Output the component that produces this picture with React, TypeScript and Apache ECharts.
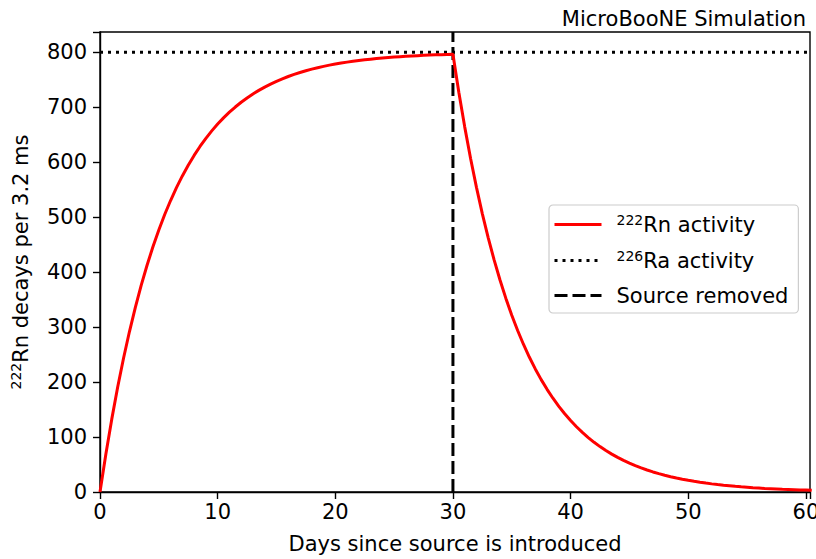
import React, { useEffect, useRef } from "react";
import * as echarts from "echarts";

// Days (half-day steps) and 222Rn activity
const days: number[] = [];
for (let i = 0; i <= 121; i++) days.push(i / 2);

const rnActivity: number[] = [
  0, 69.3, 132.6, 190.5, 243.3, 291.5, 335.6, 375.9, 412.6, 446.2,
  476.8, 504.9, 530.4, 553.8, 575.1, 594.6, 612.4, 628.7, 643.5, 657.1,
  669.5, 680.8, 691.1, 700.5, 709.2, 717.0, 724.2, 730.8, 736.8, 742.3,
  747.3, 751.8, 756.0, 759.8, 763.3, 766.5, 769.4, 772.0, 774.5, 776.7,
  778.7, 780.5, 782.2, 783.8, 785.2, 786.5, 787.6, 788.7, 789.7, 790.6,
  791.4, 792.1, 792.8, 793.4, 794.0, 794.5, 795.0, 795.4, 795.8, 796.2,
  796.5,
  727.5, 664.4, 606.9, 554.3, 506.2, 462.4, 422.3, 385.7, 352.3, 321.7,
  293.9, 268.4, 245.1, 223.9, 204.5, 186.8, 170.6, 155.8, 142.3, 130.0,
  118.7, 108.4, 99.0, 90.4, 82.6, 75.4, 68.9, 62.9, 57.5, 52.5,
  47.9, 43.8, 40.0, 36.5, 33.4, 30.5, 27.8, 25.4, 23.2, 21.2,
  19.4, 17.7, 16.2, 14.8, 13.5, 12.3, 11.3, 10.3, 9.4, 8.6,
  7.8, 7.2, 6.5, 6.0, 5.5, 5.0, 4.6, 4.2, 3.8, 3.5, 3.2,
];

const raActivity = 800;
const sourceRemovedDay = 30;
const xTicks = [0, 10, 20, 30, 40, 50, 60];
const yTicks = [0, 100, 200, 300, 400, 500, 600, 700, 800];
const xMax = 60.35;
const yMax = 837;

const FONT = "DejaVu Sans";
const FS = 21;

export default function App() {
  const ref = useRef<HTMLDivElement>(null);
  useEffect(() => {
    if (!ref.current) return;
    const chart = echarts.init(ref.current, undefined, { renderer: "svg" });
    const rnData = days.map((d, i) => [d, rnActivity[i]]);
    const rich = {
      sup: { fontSize: 14, verticalAlign: "top", padding: [0, 0, 9, 0], fontFamily: FONT, color: "#000" },
      t: { fontSize: FS, fontFamily: FONT, color: "#000" },
    };
    chart.setOption({
      animation: false,
      textStyle: { fontFamily: FONT },
      title: {
        text: "MicroBooNE Simulation",
        right: 5,
        top: 3,
        textStyle: { fontFamily: FONT, fontSize: 21, fontWeight: "normal", color: "#000" },
      },
      grid: {
        left: 100,
        right: 6,
        top: 32,
        bottom: 67,
        outerBoundsMode: "none",
        containLabel: false,
        show: true,
        borderColor: "#000",
        borderWidth: 1.4,
      },
      legend: {
        orient: "vertical",
        left: 549,
        top: 205,
        backgroundColor: "#fff",
        borderColor: "#ccc",
        borderWidth: 1.2,
        borderRadius: 4,
        padding: [8, 10, 7, 4],
        itemGap: 14,
        itemWidth: 47,
        itemHeight: 12,
        itemStyle: { opacity: 0, borderWidth: 0 },
        lineStyle: { width: 3 },
        data: ["rn", "ra", "src"],
        formatter: (name: string) =>
          name === "rn"
            ? "{sup|222}{t|Rn activity}"
            : name === "ra"
            ? "{sup|226}{t|Ra activity}"
            : "{t|Source removed}",
        textStyle: {
          fontFamily: FONT,
          fontSize: FS,
          color: "#000",
          padding: [0, 0, 0, 10],
          rich,
        },
      },
      xAxis: {
        type: "value",
        min: 0,
        max: xMax,
        interval: 10,
        name: "Days since source is introduced",
        nameLocation: "middle",
        nameGap: 41,
        nameTextStyle: { fontFamily: FONT, fontSize: FS, color: "#000" },
        axisLine: { show: true, lineStyle: { color: "#000", width: 1.4 } },
        axisTick: { show: true, length: 7, lineStyle: { color: "#000", width: 1.4 } },
        axisLabel: {
          fontFamily: FONT,
          fontSize: FS,
          color: "#000",
          margin: 9,
          formatter: (v: number) => (xTicks.includes(v) ? String(v) : ""),
        },
        splitLine: { show: false },
      },
      yAxis: {
        type: "value",
        min: 0,
        max: yMax,
        interval: 100,
        name: "{sup|222}{t|Rn decays per 3.2 ms}",
        nameLocation: "middle",
        nameGap: 68,
        nameRotate: 90,
        nameTextStyle: {
          fontFamily: FONT,
          fontSize: FS,
          color: "#000",
          rich,
        },
        axisLine: { show: true, lineStyle: { color: "#000", width: 1.4 } },
        axisTick: { show: true, length: 7, lineStyle: { color: "#000", width: 1.4 } },
        axisLabel: {
          fontFamily: FONT,
          fontSize: FS,
          color: "#000",
          margin: 13,
          formatter: (v: number) => (yTicks.includes(v) ? String(v) : ""),
        },
        splitLine: { show: false },
      },
      series: [
        {
          name: "rn",
          type: "line",
          data: rnData,
          symbol: "none",
          lineStyle: { color: "#ff0000", width: 3 },
          itemStyle: { color: "#ff0000" },
          z: 3,
        },
        {
          name: "ra",
          type: "line",
          data: [
            [0, raActivity],
            [xMax, raActivity],
          ],
          symbol: "none",
          lineStyle: { color: "#000", width: 3, type: [3, 5] },
          itemStyle: { color: "#000" },
          z: 2,
        },
        {
          name: "src",
          type: "line",
          data: [
            [sourceRemovedDay, 0],
            [sourceRemovedDay, yMax],
          ],
          symbol: "none",
          lineStyle: { color: "#000", width: 3, type: [13, 5] },
          itemStyle: { color: "#000" },
          z: 2,
        },
      ],
    });
    return () => chart.dispose();
  }, []);
  return (
    <div
      ref={ref}
      style={{ position: "absolute", left: 0, top: 0, width: 816, height: 559 }}
    />
  );
}
